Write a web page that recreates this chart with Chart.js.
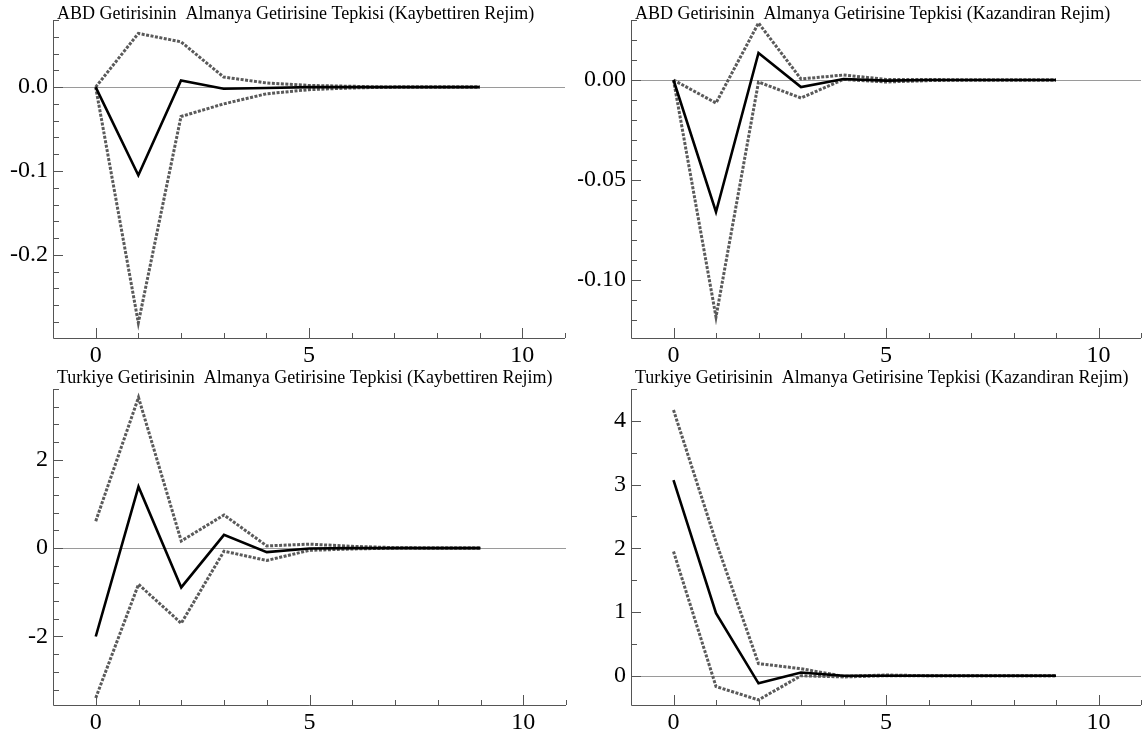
<!DOCTYPE html>
<html>
<head>
<meta charset="utf-8">
<title>Almanya Getirisine Tepki Fonksiyonlari</title>
<script src="https://cdn.jsdelivr.net/npm/chart.js@4.4.1/dist/chart.umd.min.js"></script>
<style>
  html, body { margin: 0; padding: 0; background: #fff; }
  #wrap { position: relative; width: 1144px; height: 738px; overflow: hidden; }
  canvas { position: absolute; }
</style>
</head>
<body>
<div id="wrap">
  <canvas id="abdKay"></canvas>
  <canvas id="abdKaz"></canvas>
  <canvas id="trKay"></canvas>
  <canvas id="trKaz"></canvas>
</div>
<script>
// Horizon steps and x tick labels
const steps = [0, 1, 2, 3, 4, 5, 6, 7, 8, 9];
const xLabels = ['0', '5', '10'];

// ABD getirisi, kaybettiren rejim
const abdKayResp  = [0, -0.105, 0.008, -0.002, -0.001, 0, 0, 0, 0, 0];
const abdKayUpper = [0, 0.064, 0.054, 0.012, 0.005, 0.002, 0.001, 0, 0, 0];
const abdKayLower = [0, -0.281, -0.035, -0.020, -0.008, -0.003, -0.001, 0, 0, 0];
const abdKayYLabels = ['0.0', '-0.1', '-0.2'];

// ABD getirisi, kazandiran rejim
const abdKazResp  = [0, -0.066, 0.0135, -0.0035, 0.0005, -0.0003, 0, 0, 0, 0];
const abdKazUpper = [0, -0.0115, 0.0285, 0.0005, 0.0025, 0.0003, 0.0003, 0, 0, 0];
const abdKazLower = [0, -0.1185, -0.001, -0.009, 0.0003, -0.001, -0.0003, 0, 0, 0];
const abdKazYLabels = ['0.00', '-0.05', '-0.10'];

// Turkiye getirisi, kaybettiren rejim
const trKayResp  = [-2.0, 1.39, -0.89, 0.30, -0.09, -0.01, 0, 0, 0, 0];
const trKayUpper = [0.61, 3.41, 0.16, 0.75, 0.05, 0.09, 0.04, 0.01, 0, 0];
const trKayLower = [-3.39, -0.82, -1.70, -0.07, -0.28, -0.05, -0.02, 0, 0, 0];
const trKayYLabels = ['2', '0', '-2'];

// Turkiye getirisi, kazandiran rejim
const trKazResp  = [3.07, 0.98, -0.12, 0.05, 0.0, 0, 0, 0, 0, 0];
const trKazUpper = [4.17, 2.10, 0.19, 0.11, -0.01, 0.01, 0, 0, 0, 0];
const trKazLower = [1.95, -0.17, -0.38, 0.0, -0.02, 0, 0, 0, 0, 0];
const trKazYLabels = ['4', '3', '2', '1', '0'];

const serif = '"Liberation Serif", "Times New Roman", serif';

// Zero line, inward tick marks, axis lines and panel title
const axesPlugin = {
  id: 'axesInside',
  beforeDatasetsDraw(chart) {
    const { ctx, chartArea } = chart;
    const py = Math.round(chart.scales.y.getPixelForValue(0)) + 0.5;
    ctx.save();
    ctx.strokeStyle = '#9a9a9a';
    ctx.lineWidth = 1;
    ctx.beginPath();
    ctx.moveTo(chartArea.left, py);
    ctx.lineTo(chartArea.right, py);
    ctx.stroke();
    ctx.restore();
  },
  afterDraw(chart, args, opts) {
    const { ctx, chartArea } = chart;
    const { left, right, top, bottom } = chartArea;
    const xs = chart.scales.x, ys = chart.scales.y;
    ctx.save();
    ctx.strokeStyle = '#555';
    ctx.lineWidth = 1;
    ctx.beginPath();
    ctx.moveTo(left + 0.5, top);
    ctx.lineTo(left + 0.5, bottom + 0.5);
    ctx.lineTo(right, bottom + 0.5);
    ys.ticks.forEach((t) => {
      const py = Math.round(ys.getPixelForValue(t.value)) + 0.5;
      const len = t.label ? 10 : 6;
      ctx.moveTo(left, py);
      ctx.lineTo(left + len, py);
    });
    xs.ticks.forEach((t) => {
      const px = Math.round(xs.getPixelForValue(t.value)) + 0.5;
      const len = t.label ? 10 : 5;
      ctx.moveTo(px, bottom);
      ctx.lineTo(px, bottom - len);
    });
    ctx.stroke();

    ctx.fillStyle = '#000';
    ctx.font = '18px ' + serif;
    ctx.textBaseline = 'alphabetic';
    ctx.textAlign = 'left';
    ctx.fillText(opts.title, left + 4, top - opts.titleGap);
    ctx.restore();
  },
};

function makeTicks(min, max, step) {
  const ticks = [];
  let v = Math.ceil(min / step - 1e-9) * step;
  while (v <= max + 1e-9) {
    ticks.push({ value: Math.round(v * 1e6) / 1e6 });
    v += step;
  }
  return ticks;
}

function pickLabel(labels, value, step) {
  const hit = labels.find((l) => Math.abs(parseFloat(l) - value) < step / 10);
  return hit === undefined ? '' : hit;
}

function initPanel(id, box, title, titleGap, resp, upper, lower, yLabels, yMin, yMax, yStep) {
  const canvas = document.getElementById(id);
  const cLeft = box.left - 53;
  const cTop = box.top - 20;
  let w = box.right - cLeft + 1;
  const h = box.bottom - cTop + 36;
  canvas.width = w;
  canvas.height = h;
  canvas.style.left = cLeft + 'px';
  canvas.style.top = cTop + 'px';

  const toPts = (arr) => arr.map((v, i) => ({ x: steps[i], y: v }));
  const band = {
    borderColor: '#5a5a5a',
    borderWidth: 3,
    borderDash: [3, 1.5],
    pointRadius: 0,
    fill: false,
    tension: 0,
  };

  const chart = new Chart(canvas, {
    type: 'line',
    data: {
      datasets: [
        {
          label: 'Tepki',
          data: toPts(resp),
          borderColor: '#000',
          borderWidth: 2.6,
          pointRadius: 0,
          fill: false,
          tension: 0,
        },
        Object.assign({ label: 'Ust sinir', data: toPts(upper) }, band),
        Object.assign({ label: 'Alt sinir', data: toPts(lower) }, band),
      ],
    },
    options: {
      responsive: false,
      animation: false,
      devicePixelRatio: 1,
      layout: { padding: { left: 0, right: 1, top: 20, bottom: 0 } },
      plugins: {
        legend: { display: false },
        title: { display: false },
        tooltip: { enabled: false },
        axesInside: { title: title, titleGap: titleGap },
      },
      scales: {
        x: {
          type: 'linear',
          min: -1,
          max: 11,
          afterBuildTicks: (scale) => { scale.ticks = makeTicks(-1, 11, 1); },
          afterFit: (scale) => { scale.height = 36; },
          grid: { display: false, drawTicks: false },
          border: { display: false },
          ticks: {
            autoSkip: false,
            maxRotation: 0,
            padding: 3,
            color: '#000',
            font: { family: serif, size: 24 },
            callback: (value) => pickLabel(xLabels, value, 1),
          },
        },
        y: {
          type: 'linear',
          min: yMin,
          max: yMax,
          afterBuildTicks: (scale) => { scale.ticks = makeTicks(yMin, yMax, yStep); },
          afterFit: (scale) => { scale.width = 53; },
          grid: { display: false, drawTicks: false },
          border: { display: false },
          ticks: {
            autoSkip: false,
            padding: 5,
            color: '#000',
            font: { family: serif, size: 24 },
            callback: (value) => pickLabel(yLabels, value, yStep),
          },
        },
      },
    },
    plugins: [axesPlugin],
  });

  // the layout keeps a little room on the right; widen the canvas until the plot reaches box.right
  for (let i = 0; i < 4; i++) {
    const dx = Math.round(box.right - chart.chartArea.right);
    if (dx === 0) break;
    w += dx;
    chart.resize(w, h);
  }
}

document.addEventListener('DOMContentLoaded', function () {
  initPanel('abdKay', { left: 53, right: 567, top: 20, bottom: 338 },
    'ABD Getirisinin  Almanya Getirisine Tepkisi (Kaybettiren Rejim)', 1,
    abdKayResp, abdKayUpper, abdKayLower, abdKayYLabels, -0.299, 0.08, 0.02);
  initPanel('abdKaz', { left: 631, right: 1143, top: 20, bottom: 338 },
    'ABD Getirisinin  Almanya Getirisine Tepkisi (Kazandiran Rejim)', 1,
    abdKazResp, abdKazUpper, abdKazLower, abdKazYLabels, -0.129, 0.03, 0.01);
  initPanel('trKay', { left: 53, right: 568, top: 389, bottom: 705 },
    'Turkiye Getirisinin  Almanya Getirisine Tepkisi (Kaybettiren Rejim)', 6,
    trKayResp, trKayUpper, trKayLower, trKayYLabels, -3.55, 3.6, 0.4);
  initPanel('trKaz', { left: 631, right: 1143, top: 389, bottom: 705 },
    'Turkiye Getirisinin  Almanya Getirisine Tepkisi (Kazandiran Rejim)', 6,
    trKazResp, trKazUpper, trKazLower, trKazYLabels, -0.46, 4.5, 0.5);
});
</script>
</body>
</html>
